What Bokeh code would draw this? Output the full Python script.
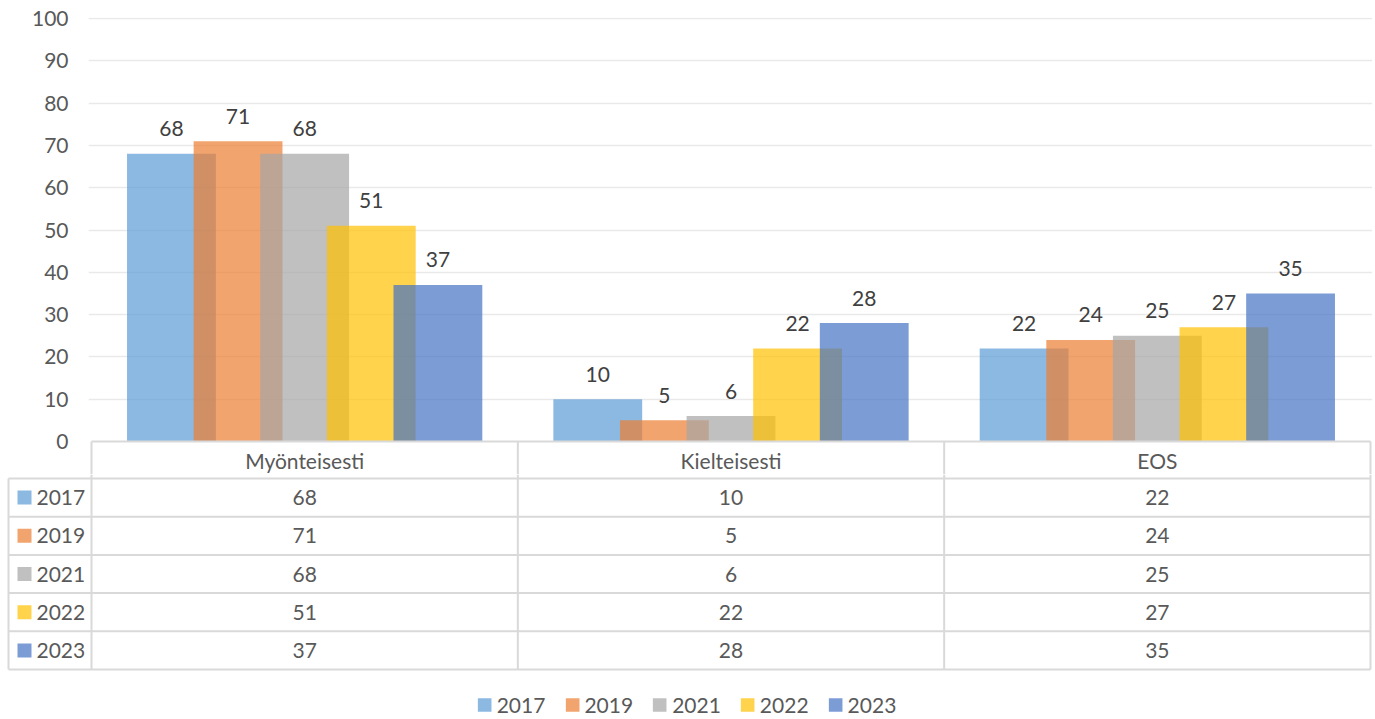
from bokeh.plotting import figure
from bokeh.models import Range1d, FixedTicker, Legend, LegendItem
from bokeh.layouts import column
from bokeh.embed import file_html
from bokeh.resources import INLINE
from bokeh.core.properties import value

# ---------------- data ----------------
categories = ["Myönteisesti", "Kielteisesti", "EOS"]
years = ["2017", "2019", "2021", "2022", "2023"]
v2017 = [68, 10, 22]
v2019 = [71, 5, 24]
v2021 = [68, 6, 25]
v2022 = [51, 22, 27]
v2023 = [37, 28, 35]
y_ticks = [0, 10, 20, 30, 40, 50, 60, 70, 80, 90, 100]
colors = ["#5B9BD5", "#ED7D31", "#A5A5A5", "#FFC000", "#4472C4"]

series = [v2017, v2019, v2021, v2022, v2023]

# ---------------- layout constants ----------------
FONT = "Lato"
FS = "21px"
AXIS_COL = "#595959"
LABEL_COL = "#404040"
TABLE_LINE = "#D9D9D9"
W = 1372
CAT_LEFT = 91                  # px from figure left edge to first category
PX_U = (1370 - CAT_LEFT) / 3   # px per category
PX_V = 4.23                    # px per value unit
FRAME1_LEFT = 88
TOP1 = 17
H1 = 474
H2 = 717 - H1
RH = 38.2                      # table row height (px)
HDR_TOP_OFF = 4                # px from fig2 top to first row boundary

bar_w = 1 / 4.8
step = bar_w * 0.75
n = len(years)
ncat = len(categories)
cat_centers = [i + 0.5 for i in range(ncat)]

# ---------------- figure 1 : bars ----------------
y_end = 100 + 1 / PX_V
y_start = y_end - (H1 - TOP1) / PX_V
x_end = (W - CAT_LEFT) / PX_U

p1 = figure(width=W, height=H1, output_backend="svg", toolbar_location=None,
            x_range=Range1d(-(CAT_LEFT - FRAME1_LEFT) / PX_U, x_end),
            y_range=Range1d(y_start, y_end),
            x_axis_location=None, y_axis_location="left",
            min_border_left=FRAME1_LEFT, min_border_right=0, min_border_top=TOP1,
            min_border_bottom=0)
p1.frame_align = False
p1.outline_line_color = None
p1.xgrid.visible = False
p1.ygrid.ticker = FixedTicker(ticks=[t for t in y_ticks if t > 0])
p1.ygrid.grid_line_color = "#E9E9E9"
p1.ygrid.grid_line_width = 1.5
ax = p1.yaxis[0]
ax.ticker = FixedTicker(ticks=y_ticks)
ax.axis_line_color = None
ax.major_tick_line_color = None
ax.minor_tick_line_color = None
ax.major_tick_out = 0
ax.major_tick_in = 0
ax.major_label_standoff = 20
ax.major_label_text_font = FONT
ax.major_label_text_font_size = FS
ax.major_label_text_color = AXIS_COL

for k, (vals, col) in enumerate(zip(series, colors)):
    xs = [c + (k - (n - 1) / 2) * step for c in cat_centers]
    p1.vbar(x=xs, top=vals, bottom=0, width=bar_w, fill_color=col, fill_alpha=0.7,
            line_color=None)

for k, vals in enumerate(series):
    xs = [c + (k - (n - 1) / 2) * step for c in cat_centers]
    p1.text(x=xs, y=vals, text=[str(v) for v in vals], text_align="center",
            text_baseline="alphabetic", y_offset=-25, text_font=value(FONT),
            text_font_size=FS, text_color=LABEL_COL)

# table header (upper part) inside figure 1
p1.segment(x0=[0], y0=[0], x1=[ncat], y1=[0], line_color=TABLE_LINE, line_width=2)
p1.segment(x0=list(range(ncat + 1)), y0=[0] * (ncat + 1),
           x1=list(range(ncat + 1)), y1=[y_start] * (ncat + 1),
           line_color=TABLE_LINE, line_width=2)
hdr_y = -((478 - 441) / 2) / PX_V
p1.text(x=cat_centers, y=[hdr_y] * ncat, text=categories, text_align="center",
        text_baseline="middle", text_font=value(FONT), text_font_size=FS,
        text_color=AXIS_COL)

# ---------------- figure 2 : data table + legend ----------------
y2_top = -HDR_TOP_OFF / RH
y2_bottom = (H2 - HDR_TOP_OFF) / RH
left_edge = -(CAT_LEFT - 8) / PX_U

p2 = figure(width=W, height=H2, output_backend="svg", toolbar_location=None,
            x_range=Range1d(-CAT_LEFT / PX_U, x_end),
            y_range=Range1d(y2_bottom, y2_top),
            x_axis_location=None, y_axis_location=None,
            min_border_left=0, min_border_right=0, min_border_top=0, min_border_bottom=0)
p2.frame_align = False
p2.outline_line_color = None
p2.grid.visible = False

# horizontal lines of rows
p2.segment(x0=[left_edge] * (n + 1), y0=list(range(n + 1)),
           x1=[ncat] * (n + 1), y1=list(range(n + 1)),
           line_color=TABLE_LINE, line_width=2)
# vertical lines
p2.segment(x0=list(range(ncat + 1)), y0=[y2_top] * (ncat + 1),
           x1=list(range(ncat + 1)), y1=[n] * (ncat + 1),
           line_color=TABLE_LINE, line_width=2)
p2.segment(x0=[left_edge], y0=[0], x1=[left_edge], y1=[n],
           line_color=TABLE_LINE, line_width=2)

swatch_x = -(CAT_LEFT - 24) / PX_U
label_x = -(CAT_LEFT - 36) / PX_U
legend_items = []
for r, (yr, vals, col) in enumerate(zip(years, series, colors)):
    yc = r + 0.5
    sw = p2.rect(x=[swatch_x], y=[yc], width=14, height=14, width_units="screen",
                 height_units="screen", fill_color=col, fill_alpha=0.7, line_color=None)
    legend_items.append(LegendItem(label=yr, renderers=[sw]))
    p2.text(x=[label_x], y=[yc], text=[yr], text_align="left", text_baseline="middle",
            text_font=value(FONT), text_font_size=FS, text_color=AXIS_COL)
    p2.text(x=cat_centers, y=[yc] * ncat, text=[str(v) for v in vals],
            text_align="center", text_baseline="middle", text_font=value(FONT),
            text_font_size=FS, text_color=AXIS_COL)

legend = Legend(items=legend_items, orientation="horizontal", location="bottom_center",
                border_line_color=None, background_fill_alpha=0, glyph_width=17,
                glyph_height=17, label_standoff=4, spacing=18, padding=0, margin=0,
                label_text_font=FONT, label_text_font_size=FS, label_text_color=AXIS_COL)
p2.add_layout(legend)

layout = column(p1, p2, spacing=0)
open("out.html", "w").write(file_html(layout, INLINE))
